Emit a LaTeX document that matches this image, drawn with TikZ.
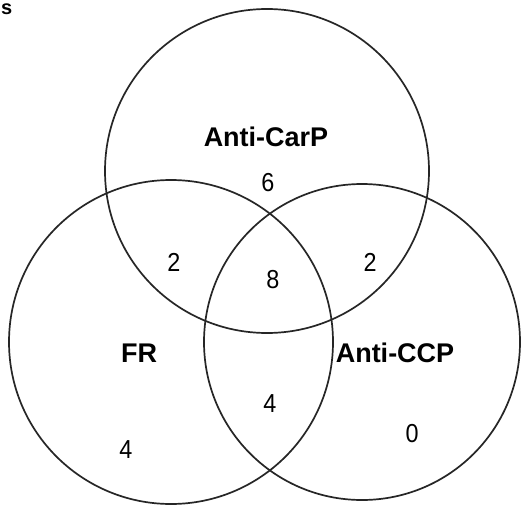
\documentclass[tikz,border=0pt]{standalone}
\usepackage{fontspec}
\setmainfont{Liberation Sans}
\usepackage{tikz}
\usetikzlibrary{positioning,shapes.geometric}
\tikzstyle{ring} = [circle, draw=black!85, line width=1.7pt, inner sep=0pt]
\tikzstyle{setname} = [font=\fontsize{27}{30}\selectfont\bfseries, inner sep=0pt]
\tikzstyle{count} = [font=\fontsize{26}{28}\selectfont, inner sep=0pt, xscale=0.9]

\begin{document}
\begin{tikzpicture}[x=1pt, y=-1pt]
\useasboundingbox [fill=white] (0,0) rectangle (521,513);
% the three sets
\node(carp) [ring, minimum size=324pt] at (267,171) {};
\node(fr)   [ring, minimum size=324pt] at (171,342) {};
\node(ccp)  [ring, minimum size=316pt] at (362,342) {};

% panel letter
\node(panel) [setname, font=\fontsize{20}{22}\selectfont\bfseries, anchor=base west] at (1,15) {s};

% set names
\node(carpname) [setname] at (266,137) {Anti-CarP};
\node(frname)   [setname] at (139,353) {FR};
\node(ccpname)  [setname] at (395,353) {Anti-CCP};

% counts
\node(onlycarp) [count] at (268,183) {6};
\node(frcarp)   [count] at (174,262) {2};
\node(all)      [count] at (273,280) {8};
\node(ccpcarp)  [count] at (370,262) {2};
\node(frccp)    [count] at (270,404) {4};
\node(onlyfr)   [count] at (126,450) {4};
\node(onlyccp)  [count] at (412,434) {0};
\end{tikzpicture}
\end{document}
